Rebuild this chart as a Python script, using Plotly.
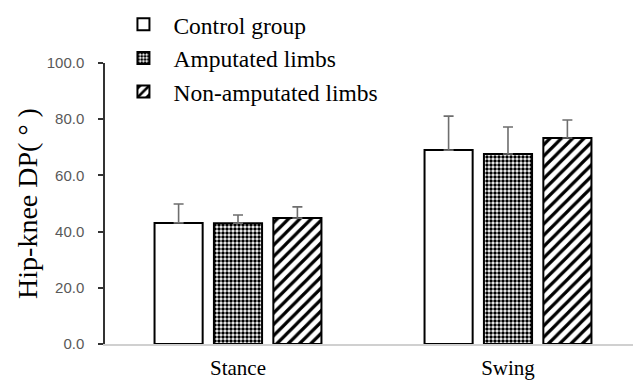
import plotly.graph_objects as go

categories = ["Stance", "Swing"]
series_names = ["Control group", "Amputated limbs", "Non-amputated limbs"]
control = [43.1, 69.0]
control_err = [6.7, 12.1]
amputated = [43.0, 67.6]
amputated_err = [2.9, 9.6]
non_amputated = [44.8, 73.3]
non_amputated_err = [4.0, 6.4]
y_ticks = [0, 20, 40, 60, 80, 100]

values = [control, amputated, non_amputated]
errors = [control_err, amputated_err, non_amputated_err]
patterns = [
    dict(shape=""),
    dict(shape=".", size=4, solidity=0.6, fgcolor="black", bgcolor="white", fillmode="replace"),
    dict(shape="/", size=8, solidity=0.4, fgcolor="black", bgcolor="white", fillmode="replace"),
]

serif = "Liberation Serif, Times New Roman, serif"

fig = go.Figure()
for name, v, e, p in zip(series_names, values, errors, patterns):
    fig.add_trace(go.Bar(
        x=categories, y=v, name=name,
        marker=dict(color="white", line=dict(color="black", width=2), pattern=p),
        error_y=dict(type="data", array=e, arrayminus=[0] * len(e), symmetric=False,
                     visible=True, color="#6e6e6e", thickness=1.6, width=5),
    ))

fig.update_layout(
    width=633, height=380,
    margin=dict(l=105, r=0, t=63, b=36, autoexpand=False),
    paper_bgcolor="white", plot_bgcolor="white",
    barmode="group", bargap=0.34, bargroupgap=0.19,
    showlegend=True,
    legend=dict(x=0.016, y=1.215, xanchor="left", yanchor="top",
                font=dict(family=serif, size=23.5, color="black"),
                bgcolor="rgba(0,0,0,0)", tracegroupgap=0, itemwidth=50),
    font=dict(family="Liberation Sans, Arial, sans-serif"),
)
fig.update_xaxes(
    type="category", range=[-0.4926, 1.463], automargin=False,
    showline=True, linecolor="#d0d0d0", linewidth=1.5,
    ticks="", showgrid=False, ticklabelstandoff=4,
    tickfont=dict(family=serif, size=21, color="black"),
)
fig.update_yaxes(
    range=[0, 100], tickvals=y_ticks, tickformat=".1f", automargin=False,
    showline=True, linecolor="#333333", linewidth=1.5,
    ticks="outside", ticklen=5, tickcolor="#333333", tickwidth=1.5,
    showgrid=False, zeroline=False, ticklabelstandoff=11,
    tickfont=dict(family="Liberation Sans, Arial, sans-serif", size=15, color="#595959"),
    title=dict(text="Hip-knee DP( ° )",
               font=dict(family=serif, size=28, color="black"),
               standoff=1),
)

fig.write_html("out.html")
